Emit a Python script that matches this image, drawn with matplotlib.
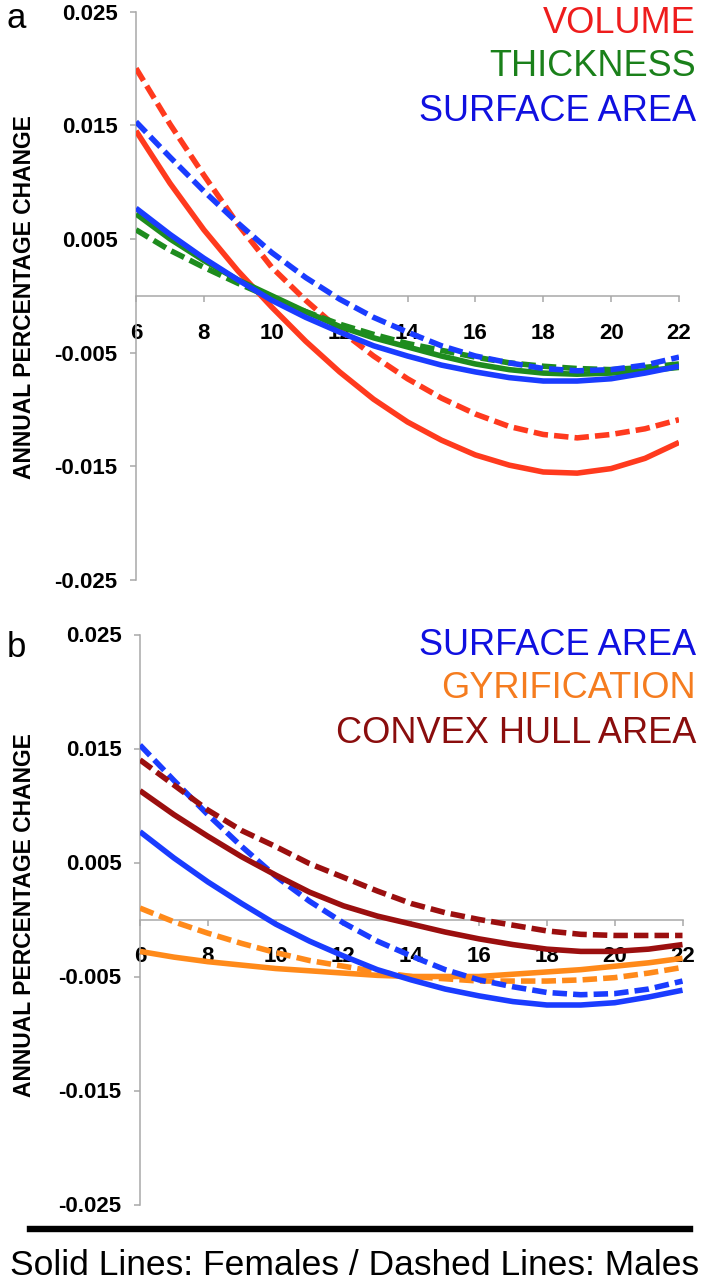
import numpy as np
import matplotlib
matplotlib.use('Agg')
import matplotlib.pyplot as plt
from matplotlib.lines import Line2D

plt.rcParams['font.family'] = ['Liberation Sans', 'DejaVu Sans']

# Data: age in years vs annual percentage change
ages = [6, 7, 8, 9, 10, 11, 12, 13, 14, 15, 16, 17, 18, 19, 20, 21, 22]

vol_f = [0.0145, 0.0099, 0.0058, 0.0022, -0.0010, -0.0040, -0.0067, -0.0091, -0.0111,
         -0.0127, -0.0140, -0.0149, -0.0155, -0.0156, -0.0152, -0.0143, -0.0129]
vol_m = [0.0200, 0.0151, 0.0106, 0.0063, 0.0025, -0.0004, -0.0030, -0.0053, -0.0073,
         -0.0090, -0.0104, -0.0115, -0.0122, -0.0125, -0.0122, -0.0117, -0.0109]
thk_f = [0.0072, 0.0050, 0.0031, 0.0014, 0.0000, -0.0014, -0.0027, -0.0037, -0.0045,
         -0.0053, -0.0060, -0.0065, -0.0068, -0.0069, -0.0068, -0.0066, -0.0063]
thk_m = [0.0058, 0.0040, 0.0025, 0.0011, -0.0002, -0.0014, -0.0025, -0.0034, -0.0042,
         -0.0048, -0.0054, -0.0059, -0.0062, -0.0064, -0.0065, -0.0063, -0.0060]
sa_f = [0.0077, 0.0054, 0.0033, 0.0014, -0.0004, -0.0019, -0.0032, -0.0044, -0.0053,
        -0.0061, -0.0067, -0.0072, -0.0075, -0.0075, -0.0073, -0.0068, -0.0062]
sa_m = [0.0153, 0.0122, 0.0092, 0.0064, 0.0038, 0.0016, -0.0003, -0.0019, -0.0032,
        -0.0044, -0.0053, -0.0059, -0.0064, -0.0066, -0.0065, -0.0061, -0.0054]
gyr_f = [-0.0028, -0.0033, -0.0037, -0.0040, -0.0043, -0.0045, -0.0047, -0.0049, -0.0050,
         -0.0050, -0.0050, -0.0048, -0.0046, -0.0044, -0.0041, -0.0038, -0.0034]
gyr_m = [0.0010, -0.0002, -0.0012, -0.0021, -0.0029, -0.0036, -0.0041, -0.0046, -0.0050,
         -0.0052, -0.0054, -0.0054, -0.0054, -0.0053, -0.0051, -0.0047, -0.0042]
chull_f = [0.0113, 0.0092, 0.0073, 0.0055, 0.0039, 0.0024, 0.0012, 0.0003, -0.0004,
           -0.0011, -0.0017, -0.0022, -0.0026, -0.0028, -0.0028, -0.0026, -0.0022]
chull_m = [0.0140, 0.0118, 0.0096, 0.0078, 0.0064, 0.0049, 0.0037, 0.0025, 0.0014,
           0.0006, 0.0000, -0.0005, -0.0010, -0.0013, -0.0014, -0.0014, -0.0014]

xticks = [6, 8, 10, 12, 14, 16, 18, 20, 22]
yticks = [0.025, 0.015, 0.005, -0.005, -0.015, -0.025]
ytick_labels = ['0.025', '0.015', '0.005', '-0.005', '-0.015', '-0.025']

RED = '#ff3a1e'
GREEN = '#1e8c1e'
BLUE = '#1a3cff'
ORANGE = '#ff8a1a'
BROWN = '#9b0f0f'

DASH = (0, (2.6, 1.1))
LW = 4.0
W, H = 711, 1280


def style_axes(ax):
    ax.set_xlim(6, 22)
    ax.set_ylim(-0.025, 0.025)
    ax.spines['top'].set_visible(False)
    ax.spines['right'].set_visible(False)
    ax.spines['bottom'].set_position(('data', 0))
    for s in ('left', 'bottom'):
        ax.spines[s].set_color('#a8a8a8')
        ax.spines[s].set_linewidth(1.1)
    ax.set_xticks(xticks)
    ax.set_yticks(yticks)
    ax.set_yticklabels(ytick_labels)
    ax.tick_params(axis='x', direction='out', length=4.3, width=1.1, color='#a8a8a8',
                   pad=15, labelsize=16)
    ax.tick_params(axis='y', direction='out', length=4.3, width=1.1, color='#a8a8a8',
                   pad=9, labelsize=16)
    for lab in ax.get_xticklabels() + ax.get_yticklabels():
        lab.set_fontweight('bold')
    ax.patch.set_alpha(0)


def add_series(ax, fem, mal, color, z):
    ax.plot(ages, mal, color=color, lw=LW, linestyle=DASH, zorder=z)
    ax.plot(ages, fem, color=color, lw=LW, solid_capstyle='butt', zorder=z + 0.5)


fig = plt.figure(figsize=(7.11, 12.8), dpi=100)

# panel a
ax1 = fig.add_axes([136 / W, 1 - 580 / H, 543 / W, 568.5 / H])
style_axes(ax1)
add_series(ax1, vol_f, vol_m, RED, 3)
add_series(ax1, thk_f, thk_m, GREEN, 4)
add_series(ax1, sa_f, sa_m, BLUE, 5)

# panel b
ax2 = fig.add_axes([140 / W, 1 - 1204.5 / H, 542.5 / W, 570 / H])
style_axes(ax2)
add_series(ax2, gyr_f, gyr_m, ORANGE, 3)
add_series(ax2, sa_f, sa_m, BLUE, 4)
add_series(ax2, chull_f, chull_m, BROWN, 5)

# legends as coloured text
leg_a = [('VOLUME', '#ee1c1c', 33), ('THICKNESS', '#1a801a', 76), ('SURFACE AREA', '#1010e0', 121)]
leg_b = [('SURFACE AREA', '#1010e0', 655), ('GYRIFICATION', '#f57c1f', 698),
         ('CONVEX HULL AREA', '#8a0d0d', 743)]
for txt, col, yb in leg_a + leg_b:
    fig.text(696 / W, 1 - yb / H, txt, color=col, fontsize=26, ha='right', va='baseline')

# y labels
for yc in (297, 915):
    fig.text(25 / W, 1 - yc / H, 'ANNUAL PERCENTAGE CHANGE', rotation=90, ha='center',
             va='center', fontsize=16.5, fontweight='bold')

# panel letters
fig.text(7 / W, 1 - 28 / H, 'a', fontsize=25, ha='left', va='baseline')
fig.text(7 / W, 1 - 657 / H, 'b', fontsize=25, ha='left', va='baseline')

# footer
fig.add_artist(Line2D([29.5 / W, 690 / W], [1 - 1229 / H, 1 - 1229 / H], lw=4.6,
                      color='black', transform=fig.transFigure))
fig.text(355 / W, 1 - 1275 / H, 'Solid Lines: Females / Dashed Lines: Males',
         fontsize=25.5, ha='center', va='baseline')

fig.savefig('out.png', dpi=100)
